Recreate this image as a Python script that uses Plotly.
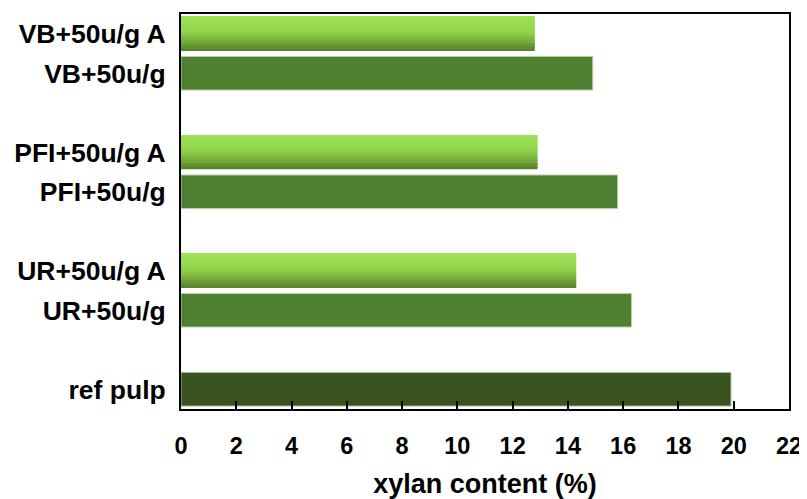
import plotly.graph_objects as go

# ---- data ----
categories = ["VB+50u/g A", "VB+50u/g", " ", "PFI+50u/g A", "PFI+50u/g", "  ",
              "UR+50u/g A", "UR+50u/g", "   ", "ref pulp"]
treated_labels = ["VB+50u/g A", "PFI+50u/g A", "UR+50u/g A"]
treated_values = [12.8, 12.9, 14.3]
enzyme_labels = ["VB+50u/g", "PFI+50u/g", "UR+50u/g"]
enzyme_values = [14.9, 15.8, 16.3]
ref_labels = ["ref pulp"]
ref_values = [19.9]
x_ticks = [0, 2, 4, 6, 8, 10, 12, 14, 16, 18, 20, 22]

BAR_W = 0.85
FONT = "Liberation Sans, Arial, sans-serif"

fig = go.Figure()

fig.add_trace(go.Bar(y=enzyme_labels, x=enzyme_values, orientation="h",
                     width=BAR_W, marker=dict(color="#4f7f31",
                     line=dict(color="#b9d3a3", width=1)), showlegend=False))
fig.add_trace(go.Bar(y=ref_labels, x=ref_values, orientation="h",
                     width=BAR_W, marker=dict(color="#38531f",
                     line=dict(color="#a9bd98", width=1)), showlegend=False))

# gradient bars emulated with thin horizontal strips (top light -> bottom dark)
def lerp(c1, c2, t):
    return tuple(round(a + (b - a) * t) for a, b in zip(c1, c2))

stops = [(0.0, (158, 226, 84)), (0.45, (146, 212, 76)),
         (0.75, (118, 172, 58)), (1.0, (86, 128, 42))]

def grad(t):
    for (t0, c0), (t1, c1) in zip(stops[:-1], stops[1:]):
        if t <= t1:
            return lerp(c0, c1, (t - t0) / (t1 - t0))
    return stops[-1][1]

N = 24
strip = BAR_W / N
for i in range(N):
    r, g, b = grad((i + 0.5) / N)
    fig.add_trace(go.Bar(y=treated_labels, x=treated_values, orientation="h",
                         width=strip * 1.08, offset=-BAR_W / 2 + i * strip,
                         marker=dict(color=f"rgb({r},{g},{b})", line=dict(width=0)),
                         showlegend=False, hoverinfo="skip"))

# page body has an 8px default margin, so the figure is sized to fit the window
fig.update_layout(
    width=799, height=491,
    margin=dict(l=173, r=18, t=6, b=90, autoexpand=False),
    paper_bgcolor="white", plot_bgcolor="white",
    barmode="overlay",
    font=dict(family=FONT, color="black", size=24, weight="bold"),
    xaxis=dict(range=[0, 22], tickvals=x_ticks, ticks="inside", ticklen=8,
               tickwidth=2, tickcolor="black", showgrid=False, zeroline=False,
               showline=True, linecolor="black", linewidth=2, mirror=True,
               automargin=False,
               tickfont=dict(size=23.5, family=FONT, weight="bold"),
               ticklabelstandoff=15,
               title=dict(text="xylan content (%)", standoff=16,
                          font=dict(size=27, family=FONT, weight="bold"))),
    yaxis=dict(type="category", categoryorder="array", categoryarray=categories,
               range=[9.5, -0.5], showgrid=False, zeroline=False, ticks="",
               showline=True, linecolor="black", linewidth=2, mirror=True,
               automargin=False,
               tickfont=dict(size=26.5, family=FONT, weight="bold"),
               ticklabelstandoff=8),
)

fig.write_html("out.html")
